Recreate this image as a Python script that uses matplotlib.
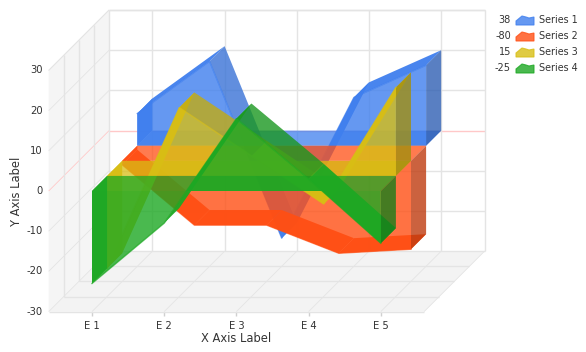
import matplotlib
matplotlib.use("Agg")
import matplotlib.pyplot as plt
from matplotlib.patches import Polygon

categories = ["E 1", "E 2", "E 3", "E 4", "E 5"]
y_ticks = [-30, -20, -10, 0, 10, 20, 30]
series_names = ["Series 1", "Series 2", "Series 3", "Series 4"]
legend_values = ["38", "-80", "15", "-25"]
series1 = [8, 21, -23, 12, 20]
series2 = [-1, -16, -16, -23, -22]
series3 = [-23, 17, 5, -7, 22]
series4 = [-23, -8, 18, 3, -13]
colors = ["#3F7FEE", "#FF4F14", "#D8BE14", "#1DA823"]
series = [series1, series2, series3, series4]

# oblique projection of the 3d chart on to pixels
x0, y0 = 92, 191
step = 72.2
unit = 4.02
layer = 15.1


def proj(pos, val, depth):
    return (x0 + pos * step + depth * layer, y0 - val * unit - depth * layer)


def shade(col, f):
    rgb = matplotlib.colors.to_rgb(col)
    return tuple(c * f for c in rgb)


fig = plt.figure(figsize=(5.86, 3.52), dpi=100)
ax = fig.add_axes([0, 0, 1, 1])
ax.set_xlim(0, 586)
ax.set_ylim(352, 0)
ax.axis("off")
plt.rcParams["font.family"] = "DejaVu Sans"

grid = "#E4E4E4"
pos_l, pos_r = -0.6, 4.6
ymin, ymax = y_ticks[0], y_ticks[-1]

# walls and floor
ax.add_patch(Polygon([proj(pos_l, ymin, 0), proj(pos_l, ymax, 0), proj(pos_l, ymax, 4), proj(pos_l, ymin, 4)],
                     fc="#F5F5F5", ec="none", zorder=1))
ax.add_patch(Polygon([proj(pos_l, ymin, 0), proj(pos_r, ymin, 0), proj(pos_r, ymin, 4), proj(pos_l, ymin, 4)],
                     fc="#F3F3F3", ec="none", zorder=1))


def line(a, b, c=grid, lw=1.0):
    ax.plot([a[0], b[0]], [a[1], b[1]], color=c, lw=lw, solid_capstyle="butt", zorder=2)


for v in y_ticks:
    c = "#FFC8C8" if v == 0 else grid
    line(proj(pos_l, v, 4), proj(pos_r, v, 4), c)
    line(proj(pos_l, v, 0), proj(pos_l, v, 4), c, 0.6)
for d in [1, 2, 3]:
    line(proj(pos_l, ymin, d), proj(pos_l, ymax, d))
    line(proj(pos_l, ymin, d), proj(pos_r, ymin, d))
for i in range(len(categories)):
    line(proj(i, ymin, 4), proj(i, ymax, 4))
    line(proj(i, ymin, 0), proj(i, ymin, 4), grid, 0.6)
    a = proj(i, ymin, 0)
    line(a, (a[0], a[1] + 4), "#D0D0D0")
line(proj(pos_l, ymin, 0), proj(pos_r, ymin, 0))
line(proj(pos_r, ymin, 4), proj(pos_r, ymax, 4))
line(proj(pos_l, ymin, 4), proj(pos_l, ymax, 4))
line(proj(pos_l, ymax, 0), proj(pos_l, ymax, 4), grid, 0.6)
line(proj(pos_l, ymax, 4), proj(pos_r, ymax, 4))
line(proj(pos_r, ymin, 0), proj(pos_r, ymin, 4), grid, 0.6)

# areas, back series first
n = len(categories)
for k, (vals, col) in enumerate(zip(series, colors)):
    d = 3 - k
    # base strip
    ax.add_patch(Polygon([proj(0, 0, d), proj(n - 1, 0, d), proj(n - 1, 0, d + 1), proj(0, 0, d + 1)],
                         fc=col, alpha=0.75, ec="none", zorder=3))
    # top strips, falling ones above zero are thinner and a rising one under zero is hidden
    for i in range(n - 1):
        a, b = vals[i], vals[i + 1]
        if max(a, b) < 0 and b - a > 5:
            continue
        falling = b < a and a > 5
        fc = shade(col, 0.9) if falling else col
        ax.add_patch(Polygon([proj(i, a, d), proj(i + 1, b, d), proj(i + 1, b, d + 1), proj(i, a, d + 1)],
                             fc=fc, alpha=0.8 if falling else 0.95, ec="none", zorder=3))
    # end faces
    ax.add_patch(Polygon([proj(0, 0, d), proj(0, vals[0], d), proj(0, vals[0], d + 1), proj(0, 0, d + 1)],
                         fc=col, alpha=0.95, ec="none", zorder=3))
    ax.add_patch(Polygon([proj(n - 1, 0, d), proj(n - 1, vals[-1], d), proj(n - 1, vals[-1], d + 1), proj(n - 1, 0, d + 1)],
                         fc=shade(col, 0.75), alpha=0.8, ec="none", zorder=3))
    # front face
    pts = [proj(0, 0, d)] + [proj(i, vals[i], d) for i in range(n)] + [proj(n - 1, 0, d)]
    ax.add_patch(Polygon(pts, fc=col, alpha=0.8, ec="none", zorder=3))
    xs, ys = zip(*[proj(i, vals[i], d) for i in range(n)])
    ax.plot(xs, ys, color=col, lw=1.0, alpha=0.7, zorder=3)

# tick labels and titles
txt = "#333333"
for v in y_ticks:
    p = proj(pos_l, v, 0)
    ax.text(p[0] - 6, p[1], str(v), ha="right", va="center", fontsize=7.2, color=txt)
for i, c in enumerate(categories):
    p = proj(i, ymin, 0)
    ax.text(p[0], p[1] + 14, c, ha="center", va="center", fontsize=7.2, color=txt)
ax.text(236, 338, "X Axis Label", ha="center", va="center", fontsize=8.3, color=txt)
ax.text(16, 191, "Y Axis Label", ha="center", va="center", rotation=90, fontsize=8.3, color=txt)

# legend
for k, (name, val, col) in enumerate(zip(series_names, legend_values, colors)):
    yc = 20 + k * 16
    ax.text(511, yc, val, ha="right", va="center", fontsize=7, color=txt)
    ax.add_patch(Polygon([(516, yc + 5), (516, yc + 1), (522, yc - 4), (526, yc - 3), (529, yc - 2), (534, yc - 3), (534, yc + 5)],
                         fc=col, alpha=0.8, ec=col, lw=0.8, zorder=3))
    ax.text(539, yc, name, ha="left", va="center", fontsize=6.9, color=txt)

fig.savefig("out.png", dpi=100)
